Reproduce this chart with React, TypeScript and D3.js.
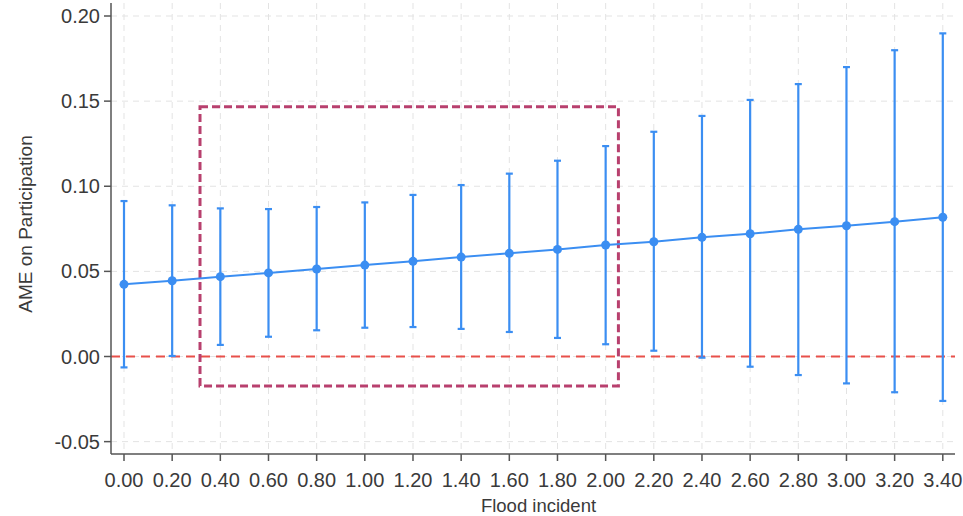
import React from "react";
import * as d3 from "d3";

const flood = [0, 0.2, 0.4, 0.6, 0.8, 1.0, 1.2, 1.4, 1.6, 1.8, 2.0, 2.2, 2.4, 2.6, 2.8, 3.0, 3.2, 3.4];
const ame = [0.0424, 0.0445, 0.0469, 0.0491, 0.0514, 0.0537, 0.0559, 0.0584, 0.0606, 0.0629, 0.0655, 0.0674, 0.0700, 0.0721, 0.0747, 0.0768, 0.0792, 0.0818];
const upper = [0.0913, 0.0888, 0.0870, 0.0866, 0.0878, 0.0905, 0.0949, 0.1007, 0.1074, 0.1150, 0.1236, 0.1320, 0.1413, 0.1507, 0.1600, 0.1700, 0.1799, 0.1898];
const lower = [-0.0064, 0.0003, 0.0068, 0.0116, 0.0154, 0.0169, 0.0173, 0.0162, 0.0144, 0.0109, 0.0072, 0.0034, -0.0007, -0.0060, -0.0109, -0.0158, -0.0210, -0.0261];
const yTicks = [-0.05, 0, 0.05, 0.1, 0.15, 0.2];
const highlight = { x0: 0.3156, x1: 2.053, y0: -0.0173, y1: 0.1467 };

const fmt = (v: number) => d3.format(".2f")(v).replace("\u2212", "-");

export default function App() {
  const W = 963, H = 516;
  const x = d3.scaleLinear().domain([0, 3.4]).range([124, 942.8]);
  const y = d3.scaleLinear().domain([0, 0.2]).range([356.5, 16]);
  const axisLeft = 111, axisBottom = 454, axisRight = 955, axisTop = 3;
  const blue = "#3b8ef2";
  const font = "Liberation Sans, Arial, sans-serif";
  const textColor = "#3a3a3a";
  const line = d3.line<number>().x((_, i) => x(flood[i])).y((d) => y(d));

  return (
    <svg width={W} height={H} style={{ position: "absolute", left: 0, top: 0, background: "#fff" }}>
      {/* grid */}
      {flood.map((f, i) => (
        <line key={"gx" + i} x1={x(f)} x2={x(f)} y1={axisTop} y2={axisBottom} stroke="#e3e3e3" strokeWidth={1} strokeDasharray="6,5" />
      ))}
      {yTicks.map((t, i) => (
        <line key={"gy" + i} x1={axisLeft} x2={axisRight} y1={y(t)} y2={y(t)} stroke="#e3e3e3" strokeWidth={1} strokeDasharray="6,5" />
      ))}
      {/* zero line */}
      <line x1={axisLeft} x2={axisRight} y1={y(0)} y2={y(0)} stroke="#e8504a" strokeWidth={2} strokeDasharray="9,6" />
      {/* highlight box */}
      <rect x={x(highlight.x0)} y={y(highlight.y1)} width={x(highlight.x1) - x(highlight.x0)} height={y(highlight.y0) - y(highlight.y1)}
        fill="none" stroke="#b8406e" strokeWidth={3} strokeDasharray="8,4" />
      {/* error bars */}
      {flood.map((f, i) => (
        <g key={"eb" + i} stroke={blue} strokeWidth={2.2}>
          <line x1={x(f)} x2={x(f)} y1={y(upper[i])} y2={y(lower[i])} />
          <line x1={x(f) - 3.5} x2={x(f) + 3.5} y1={y(upper[i])} y2={y(upper[i])} />
          <line x1={x(f) - 3.5} x2={x(f) + 3.5} y1={y(lower[i])} y2={y(lower[i])} />
        </g>
      ))}
      <path d={line(ame) || ""} fill="none" stroke={blue} strokeWidth={2} />
      {flood.map((f, i) => (
        <circle key={"pt" + i} cx={x(f)} cy={y(ame[i])} r={4.5} fill={blue} />
      ))}
      {/* axes */}
      <line x1={axisLeft} x2={axisLeft} y1={axisTop} y2={axisBottom} stroke="#555" strokeWidth={1.5} />
      <line x1={axisLeft} x2={axisRight} y1={axisBottom} y2={axisBottom} stroke="#555" strokeWidth={1.5} />
      {yTicks.map((t, i) => (
        <g key={"yt" + i}>
          <line x1={axisLeft - 7} x2={axisLeft} y1={y(t)} y2={y(t)} stroke="#555" strokeWidth={1.5} />
          <text x={axisLeft - 11} y={y(t)} dy="0.35em" textAnchor="end" fontFamily={font} fontSize={20} fill={textColor}>
            {fmt(t)}
          </text>
        </g>
      ))}
      {flood.map((f, i) => (
        <g key={"xt" + i}>
          <line x1={x(f)} x2={x(f)} y1={axisBottom} y2={axisBottom + 7} stroke="#555" strokeWidth={1.5} />
          <text x={x(f)} y={480} dy="0.35em" textAnchor="middle" fontFamily={font} fontSize={20} fill={textColor}>
            {fmt(f)}
          </text>
        </g>
      ))}
      <text x={538.5} y={506} dy="0.35em" textAnchor="middle" fontFamily={font} fontSize={18.5} fill={textColor}>Flood incident</text>
      <text transform={`translate(25,224) rotate(-90)`} dy="0.35em" textAnchor="middle" fontFamily={font} fontSize={19} fill={textColor}>AME on Participation</text>
    </svg>
  );
}
